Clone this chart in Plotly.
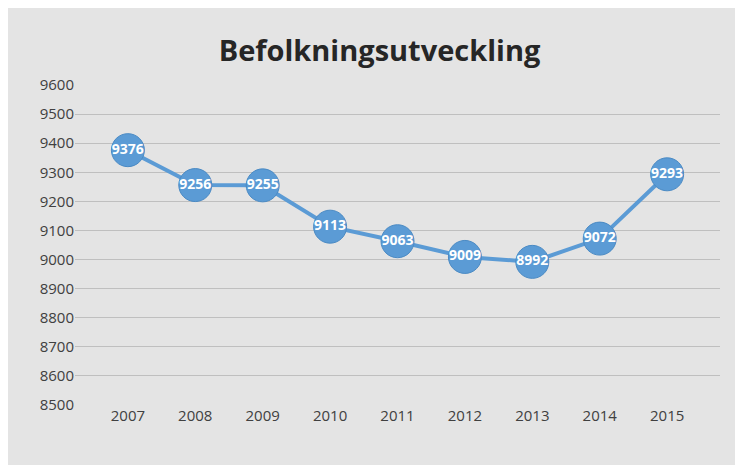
import plotly.graph_objects as go

years = ["2007", "2008", "2009", "2010", "2011", "2012", "2013", "2014", "2015"]
population = [9376, 9256, 9255, 9113, 9063, 9009, 8992, 9072, 9293]
y_ticks = list(range(8500, 9700, 100))

fig = go.Figure()
fig.add_trace(go.Scatter(
    x=years, y=population, mode="lines+markers+text",
    line=dict(color="#5b9bd5", width=4),
    marker=dict(size=33, color="#5b9bd5", line=dict(color="#4a8ac4", width=1)),
    text=[str(v) for v in population], textposition="middle center",
    textfont=dict(family="Open Sans", size=14, color="white", weight="bold"),
    cliponaxis=False,
))

fig.update_layout(
    width=743, height=465,
    margin=dict(l=67, r=31, t=77, b=68),
    paper_bgcolor="#e4e4e4", plot_bgcolor="rgba(0,0,0,0)",
    title=dict(text="Befolkningsutveckling", x=0.5, y=0.93, xanchor="center",
               font=dict(family="Open Sans", size=29, color="#262626", weight="bold")),
    showlegend=False,
    xaxis=dict(type="category", showgrid=False, showline=False, ticks="",
               automargin=False,
               tickfont=dict(family="Open Sans", size=15, color="#404040")),
    yaxis=dict(range=[8500, 9600], tickvals=y_ticks, showgrid=True,
               gridcolor="#bfbfbf", gridwidth=1, zeroline=False, automargin=False,
               tickfont=dict(family="Open Sans", size=15, color="#404040")),
)
fig.write_html("out.html")
